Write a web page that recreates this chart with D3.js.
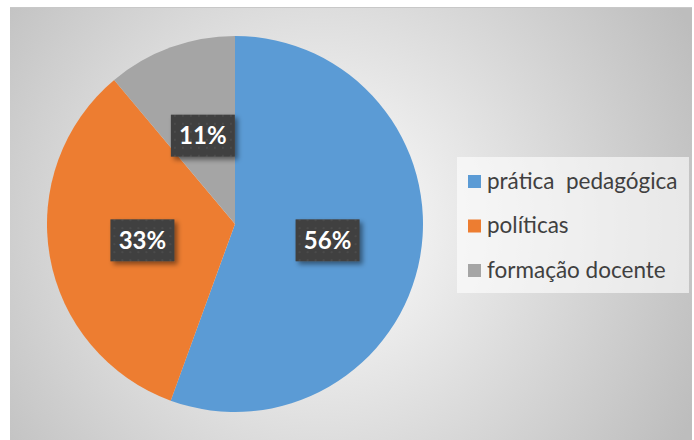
<!DOCTYPE html>
<html>
<head>
<meta charset="utf-8">
<script src="https://cdn.jsdelivr.net/npm/d3@7"></script>
<style>
  body { margin: 0; background: #fff; }
  text { font-family: Lato, "Open Sans", sans-serif; }
</style>
</head>
<body>
<svg id="chart" width="694" height="440"></svg>
<script>
// data
const categories = ["prática  pedagógica", "políticas", "formação docente"];
const values = [5, 3, 1];
const labels = ["56%", "33%", "11%"];
const colors = ["#5b9bd5", "#ed7d31", "#a5a5a5"];

const svg = d3.select("#chart");
const defs = svg.append("defs");

// background gradient, white in the middle and grey at edges
const grad = defs.append("radialGradient")
  .attr("id", "bg")
  .attr("gradientUnits", "userSpaceOnUse")
  .attr("cx", 320).attr("cy", 225).attr("r", 420);
grad.append("stop").attr("offset", "0").attr("stop-color", "#ffffff");
grad.append("stop").attr("offset", "1").attr("stop-color", "#bdbdbd");

// dotted pattern for the label boxes
const pat = defs.append("pattern")
  .attr("id", "dots")
  .attr("width", 8).attr("height", 8)
  .attr("patternUnits", "userSpaceOnUse");
pat.append("rect").attr("width", 8).attr("height", 8).attr("fill", "#3f3f3f");
pat.append("rect").attr("x", 3).attr("y", 3).attr("width", 2).attr("height", 2).attr("fill", "#4c4c4c");

const shadow = defs.append("filter").attr("id", "shadow")
  .attr("x", "-20%").attr("y", "-20%").attr("width", "150%").attr("height", "160%");
shadow.append("feDropShadow")
  .attr("dx", 3).attr("dy", 3).attr("stdDeviation", 2.5)
  .attr("flood-color", "#000").attr("flood-opacity", 0.45);

svg.append("rect")
  .attr("x", 10).attr("y", 7).attr("width", 682).attr("height", 433)
  .attr("fill", "url(#bg)");
svg.append("line")
  .attr("x1", 10).attr("x2", 692).attr("y1", 7.5).attr("y2", 7.5)
  .attr("stroke", "#c8c8c8");

// pie
const cx = 235, cy = 224, radius = 188;
const pie = d3.pie().sort(null).value(d => d);
const arcs = pie(values);
const arc = d3.arc().innerRadius(0).outerRadius(radius);
const labelArc = d3.arc().innerRadius(radius / 2).outerRadius(radius / 2);

const g = svg.append("g").attr("transform", `translate(${cx},${cy})`);
g.selectAll("path")
  .data(arcs)
  .join("path")
  .attr("d", arc)
  .attr("fill", (d, i) => colors[i]);

const bw = 64, bh = 42;
const lbl = g.selectAll("g.lbl")
  .data(arcs)
  .join("g")
  .attr("class", "lbl")
  .attr("transform", d => {
    const [x, y] = labelArc.centroid(d);
    return `translate(${x},${y})`;
  });
lbl.append("rect")
  .attr("x", -bw / 2).attr("y", -bh / 2)
  .attr("width", bw).attr("height", bh)
  .attr("fill", "url(#dots)")
  .attr("filter", "url(#shadow)");
lbl.append("text")
  .attr("text-anchor", "middle")
  .attr("dy", "0.36em")
  .attr("fill", "#fff")
  .attr("font-size", 24)
  .attr("font-weight", 700)
  .text((d, i) => labels[i]);

// legend
const legend = svg.append("g");
legend.append("rect")
  .attr("x", 457).attr("y", 157).attr("width", 232).attr("height", 136)
  .attr("fill", "#fff").attr("fill-opacity", 0.6);
const ly = d3.scalePoint().domain(categories).range([181, 270]);
const item = legend.selectAll("g.item")
  .data(categories)
  .join("g")
  .attr("class", "item")
  .attr("transform", d => `translate(468,${ly(d)})`);
item.append("rect")
  .attr("x", 0).attr("y", -6).attr("width", 13).attr("height", 13)
  .attr("fill", (d, i) => colors[i]);
item.append("text")
  .attr("x", 19)
  .attr("dy", "0.35em")
  .attr("fill", "#404040")
  .attr("font-size", 22.5)
  .style("white-space", "pre")
  .text(d => d);
</script>
</body>
</html>
